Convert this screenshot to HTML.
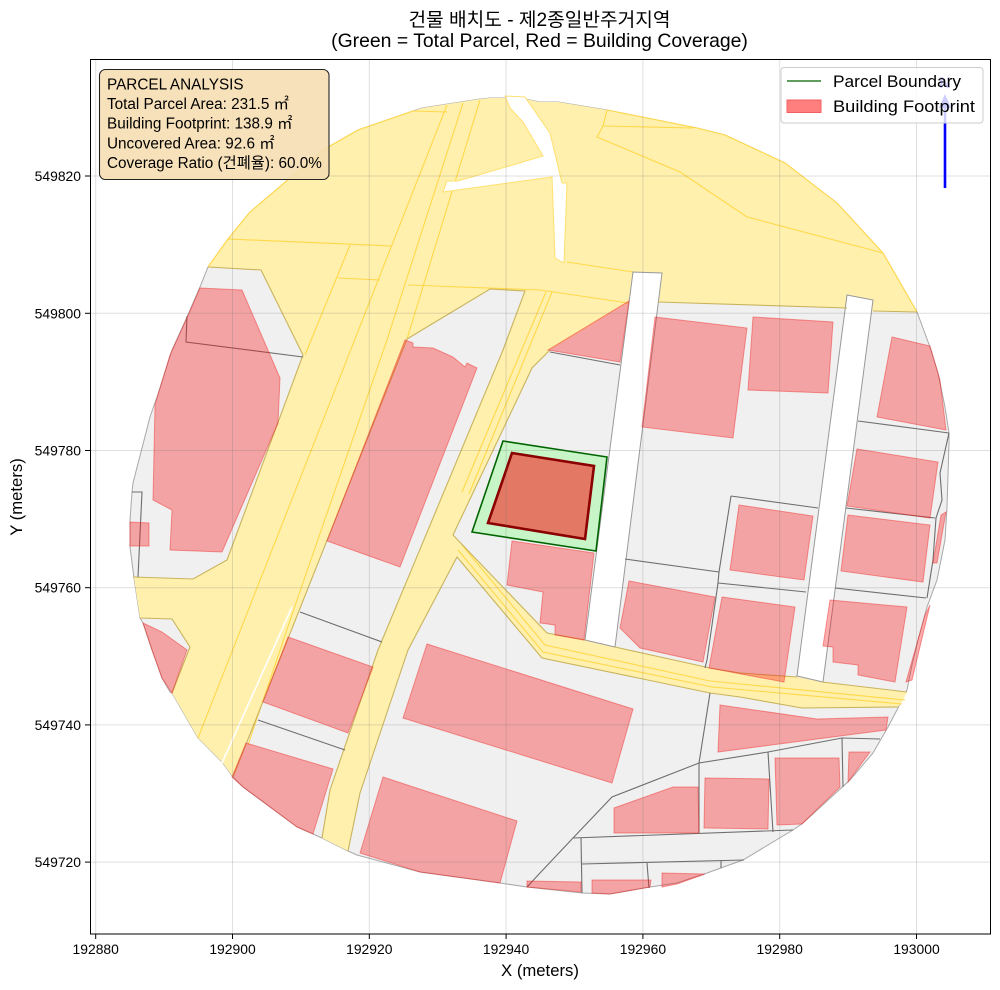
<!DOCTYPE html>
<html><head><meta charset="utf-8"><style>
html,body{margin:0;padding:0;background:#fff;}
svg{display:block;}
text{font-family:"Liberation Sans","Noto Sans CJK KR",sans-serif;}
</style></head><body>
<svg width="1000" height="990" viewBox="0 0 1000 990" xmlns="http://www.w3.org/2000/svg">
<rect width="1000" height="990" fill="#fff"/>

<!-- base gray parcel area -->
<polygon points="208,267 228,239 250,212 323,150 358,130 413,111 422,108 480,99 490,98 507,98 525,99 540,102 558,102 607,110 697,128 725,135 785,163 837,203 883,253 917,312 930,347 938,373 945,407 949,433 949,443 947,507 945,540 937,580 927,607 918,640 912,665 907,690 898,708 888,727 873,753 850,780 803,823 793,830 743,860 707,873 677,883 650,887 610,894 582,893 527,887 500,883 420,872 357,855 348,851 322,838 313,834 297,827 243,787 233,777 222,762 198,738 172,693 170,692 162,678 152,650 143,623 140,618 134,578 130,547 130,520 132,492 133,483 150,417 157,397 172,350 187,317 200,287" fill="#f0f0f0" stroke="#a8a8a8" stroke-width="1"/>

<!-- yellow roads -->
<g fill="#fff0ad" stroke="none">
<polygon points="208,267 228,239 250,212 323,150 358,130 413,111 422,108 480,99 490,98 507,98 525,99 540,102 558,102 607,110 697,128 725,135 785,163 837,203 883,253 917,312 873,311 847,308 658,302 629,302 550,350 532,368 525,291 490,289 407,339 303,355 261,270"/>
<polygon points="303,355 407,339 233,777 222,762 198,738 172,693 190,647 172,619 140,618 134,578 133,577 193,579 227,560"/>
<polygon points="525,291 503,350 378,650 330,790 322,838 348,851 360,793 408,650 457,557 453,535 532,368 550,350 560,291"/>
<polygon points="453,535 547,633 585,640 615,647 710,668 740,673 797,677 830,683 907,692 903,700 898,707 802,708 740,697 710,693 542,658 457,557"/>
</g>

<!-- gold internal lines -->
<g fill="none" stroke="#ffd84a" stroke-width="1.1">
<polyline points="447,105 198,738"/>
<polyline points="463,103 387,340 297,600 248,745"/>
<polyline points="480,100 407,339"/>
<polyline points="228,239 392,246"/>
<polyline points="413,111 447,112"/>
<polyline points="338,278 380,280"/>
<polyline points="408,285 540,290 628,303"/>
<polyline points="567,262 633,272"/>
<polyline points="350,245 305,355"/>
<polyline points="607,110 603,126 597,137 680,172 747,217 883,253"/>
<polyline points="603,126 693,128"/>
<polyline points="546,292 462,492"/>
<polyline points="552,292 469,494"/>
<polyline points="462,545 545,645 710,681 905,700"/>
<polyline points="458,550 543,652 712,687 902,704"/>
<polyline points="413,111 358,130 323,150 250,212 228,239 208,267"/>
<polyline points="607,110 697,128 725,135 785,163 837,203 883,253 917,312"/>
</g>
<line x1="292" y1="607" x2="222" y2="763" stroke="#ffffff" stroke-width="1.6"/>

<!-- white gaps -->
<g fill="#ffffff">
<polygon points="505,96 510,108 523,122 543,156 458,181 447,181 443,192 552,177 555,258 564,263 567,183 562,183 550,133 525,97" stroke="#ffe070" stroke-width="1"/>
<polygon points="633,272 662,273 615,647 585,640" stroke="#999" stroke-width="1"/>
<polygon points="847,295 873,300 823,682 797,676" stroke="#999" stroke-width="1"/>
</g>

<!-- olive road edges -->
<g fill="none" stroke="#c9b35c" stroke-width="1.1">
<polyline points="208,267 261,270 303,355 227,560 193,579 133,577"/>
<polyline points="140,618 172,619 190,647 172,693"/>
<polyline points="407,339 233,777"/>
<polyline points="407,339 490,289 525,291 503,350 378,650 330,790 322,838"/>
<polyline points="348,851 360,793 408,650 457,557 542,658 710,693 740,697 802,708 898,707"/>
<polyline points="453,535 532,368 550,350"/>
<polyline points="453,535 547,633 585,640"/>
<polyline points="615,647 710,668 740,673 797,677"/>
<polyline points="822,682 907,692"/>
<polyline points="658,302 847,308"/>
<polyline points="873,311 917,312"/>
</g>

<!-- dark parcel lines -->
<g fill="none" stroke="#6e6e6e" stroke-width="1.1">
<polyline points="187,316 186,342 303,357"/>
<polyline points="132,492 142,492 138,577"/>
<polyline points="300,612 382,642"/>
<polyline points="258,720 345,750"/>
<polyline points="550,352 620,365"/>
<polyline points="625,559 719,572"/>
<polyline points="731,496 818,508"/>
<polyline points="731,496 719,572 718,583 707,660 705,668"/>
<polyline points="718,583 806,592"/>
<polyline points="858,421 949,433"/>
<polyline points="846,508 935,518"/>
<polyline points="835,588 926,598"/>
<polyline points="949,433 940,473 942,500 936,518 933,560 927,598"/>
<polyline points="527,887 540,873 573,838 612,797 699,763 768,752 842,738 880,739"/>
<polyline points="710,693 699,763 699,833"/>
<polyline points="768,752 773,832"/>
<polyline points="842,738 843,787"/>
<polyline points="573,838 793,830"/>
<polyline points="581,838 582,893"/>
<polyline points="582,864 744,860"/>
<polyline points="647,863 649,888"/>
<polyline points="721,860 721,868"/>
</g>

<!-- buildings -->
<g fill="rgba(250,20,20,0.35)" stroke="rgba(240,40,40,0.45)" stroke-width="1">
<polygon points="200,288 242,290 280,378 278,423 222,552 170,550 172,510 153,500 155,405 170,355 187,318"/>
<polygon points="130,522 149,523 149,546 130,546"/>
<polygon points="143,623 162,632 187,650 172,693 162,678 152,650"/>
<polygon points="405,340 413,343 413,347 433,348 453,357 465,367 467,363 477,368 400,567 327,541"/>
<polygon points="288,637 373,667 348,733 263,702"/>
<polygon points="246,743 333,769 313,834 297,827 243,787 232,777"/>
<polygon points="427,644 633,709 612,783 403,718"/>
<polygon points="383,777 517,821 500,883 420,872 360,853"/>
<polygon points="512,541 594,553 584,640 555,635 555,625 540,623 543,592 507,585"/>
<polygon points="548,350 629,301 620,362"/>
<polygon points="655,317 747,328 733,438 642,427"/>
<polygon points="753,317 833,322 828,393 748,390"/>
<polygon points="892,337 930,346 940,380 946,430 877,417"/>
<polygon points="857,449 938,462 930,518 847,506"/>
<polygon points="848,515 930,525 923,582 841,571"/>
<polygon points="941,515 946,512 937,563 933,563"/>
<polygon points="925,615 930,605 912,680 906,682"/>
<polygon points="739,505 813,516 804,580 730,570"/>
<polygon points="629,581 715,597 703,662 640,648 620,628"/>
<polygon points="722,597 795,607 784,682 709,668"/>
<polygon points="830,600 907,607 895,682 858,675 858,665 833,662 833,647 823,646"/>
<polygon points="720,705 817,719 888,717 886,730 718,752"/>
<polygon points="614,808 673,787 698,787 699,833 614,833"/>
<polygon points="705,778 769,779 768,829 704,828"/>
<polygon points="775,758 839,758 840,787 802,824 777,825"/>
<polygon points="849,752 870,752 848,782"/>
<polygon points="527,881 581,882 581,892 527,887"/>
<polygon points="592,880 651,880 650,887 610,894 592,893"/>
<polygon points="662,873 705,874 677,884 662,887"/>
</g>

<!-- subject parcel and building -->
<polygon points="503,441 607,457 596,551 472,532" fill="#c8f5c8" stroke="#006400" stroke-width="1.6"/>
<polygon points="512,453 594,466 585,539 488,523" fill="#e37965" stroke="#8b0000" stroke-width="2.6" stroke-linejoin="miter"/>

<!-- grid -->
<g stroke="rgba(110,110,110,0.22)" stroke-width="1">
<line x1="95.7" y1="60" x2="95.7" y2="934"/>
<line x1="232.5" y1="60" x2="232.5" y2="934"/>
<line x1="369.3" y1="60" x2="369.3" y2="934"/>
<line x1="506.1" y1="60" x2="506.1" y2="934"/>
<line x1="642.9" y1="60" x2="642.9" y2="934"/>
<line x1="779.7" y1="60" x2="779.7" y2="934"/>
<line x1="916.5" y1="60" x2="916.5" y2="934"/>
<line x1="90" y1="176" x2="990" y2="176"/>
<line x1="90" y1="313.3" x2="990" y2="313.3"/>
<line x1="90" y1="450.5" x2="990" y2="450.5"/>
<line x1="90" y1="587.7" x2="990" y2="587.7"/>
<line x1="90" y1="724.9" x2="990" y2="724.9"/>
<line x1="90" y1="862.1" x2="990" y2="862.1"/>
</g>

<!-- north arrow -->
<line x1="945" y1="188" x2="945" y2="106" stroke="#0000ff" stroke-width="2.6"/>
<polygon points="945,94 939,108 951,108" fill="#0000ff"/>
<text x="945" y="88" font-size="16" font-weight="bold" fill="#0000ff" text-anchor="middle">N</text>

<!-- frame -->
<rect x="90.5" y="59.5" width="900" height="874.5" fill="none" stroke="#000" stroke-width="1"/>

<!-- ticks -->
<g stroke="#000" stroke-width="1">
<line x1="95.7" y1="934" x2="95.7" y2="939"/>
<line x1="232.5" y1="934" x2="232.5" y2="939"/>
<line x1="369.3" y1="934" x2="369.3" y2="939"/>
<line x1="506.1" y1="934" x2="506.1" y2="939"/>
<line x1="642.9" y1="934" x2="642.9" y2="939"/>
<line x1="779.7" y1="934" x2="779.7" y2="939"/>
<line x1="916.5" y1="934" x2="916.5" y2="939"/>
<line x1="85" y1="176" x2="90" y2="176"/>
<line x1="85" y1="313.3" x2="90" y2="313.3"/>
<line x1="85" y1="450.5" x2="90" y2="450.5"/>
<line x1="85" y1="587.7" x2="90" y2="587.7"/>
<line x1="85" y1="724.9" x2="90" y2="724.9"/>
<line x1="85" y1="862.1" x2="90" y2="862.1"/>
</g>
<g font-size="13.9" fill="#000" text-anchor="middle">
<text x="95.7" y="954">192880</text>
<text x="232.5" y="954">192900</text>
<text x="369.3" y="954">192920</text>
<text x="506.1" y="954">192940</text>
<text x="642.9" y="954">192960</text>
<text x="779.7" y="954">192980</text>
<text x="916.5" y="954">193000</text>
</g>
<g font-size="13.9" fill="#000" text-anchor="end">
<text x="81" y="181">549820</text>
<text x="81" y="318.3">549800</text>
<text x="81" y="455.5">549780</text>
<text x="81" y="592.7">549760</text>
<text x="81" y="729.9">549740</text>
<text x="81" y="867.1">549720</text>
</g>
<text x="540" y="976" font-size="16.7" text-anchor="middle" fill="#000">X (meters)</text>
<text transform="translate(22,497) rotate(-90)" font-size="16.7" text-anchor="middle" fill="#000">Y (meters)</text>

<!-- title -->
<text x="539.5" y="26" font-size="19" text-anchor="middle" fill="#000" textLength="262" lengthAdjust="spacingAndGlyphs">건물 배치도 - 제2종일반주거지역</text>
<text x="539.5" y="47" font-size="19.4" text-anchor="middle" fill="#000">(Green = Total Parcel, Red = Building Coverage)</text>

<!-- info box -->
<rect x="99.5" y="69.5" width="229.5" height="110" rx="6" ry="6" fill="#f5deb3" fill-opacity="0.9" stroke="#222" stroke-width="1.1"/>
<g font-size="15.3" fill="#000">
<text x="107" y="89.3">PARCEL ANALYSIS</text>
<text x="107" y="109">Total Parcel Area: 231.5 ㎡</text>
<text x="107" y="128.7">Building Footprint: 138.9 ㎡</text>
<text x="107" y="148.4">Uncovered Area: 92.6 ㎡</text>
<text x="107" y="168.1">Coverage Ratio (건폐율): 60.0%</text>
</g>

<!-- legend -->
<rect x="781" y="67.5" width="202" height="55.5" rx="3" ry="3" fill="#ffffff" fill-opacity="0.8" stroke="#cccccc" stroke-width="1"/>
<line x1="787" y1="81" x2="821" y2="81" stroke="#006400" stroke-width="1.3"/>
<text x="833" y="87" font-size="16.7" fill="#000" textLength="128" lengthAdjust="spacingAndGlyphs">Parcel Boundary</text>
<rect x="787" y="100" width="34" height="12.5" fill="#ff7f7f" stroke="#f06060" stroke-width="1"/>
<text x="833" y="112" font-size="16.7" fill="#000" textLength="142" lengthAdjust="spacingAndGlyphs">Building Footprint</text>
</svg>
</body></html>
